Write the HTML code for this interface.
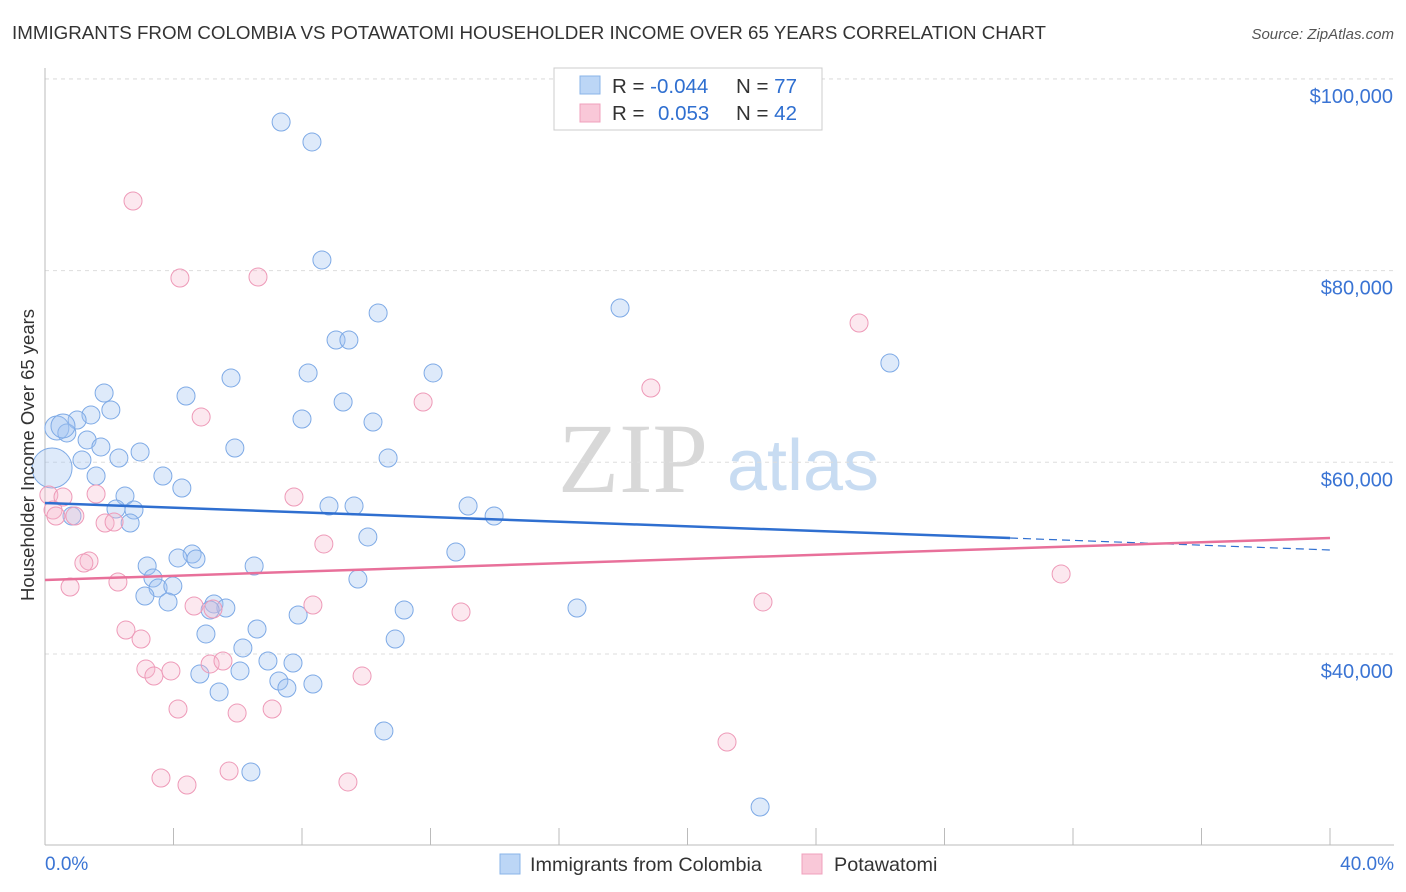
<!DOCTYPE html>
<html><head><meta charset="utf-8">
<style>
body{margin:0;background:#fff;font-family:"Liberation Sans",sans-serif;}
svg{display:block}
</style></head>
<body>
<svg id="chart" width="1406" height="892">
<text x="12" y="39" font-size="18.7" fill="#333" textLength="1034" lengthAdjust="spacingAndGlyphs">IMMIGRANTS FROM COLOMBIA VS POTAWATOMI HOUSEHOLDER INCOME OVER 65 YEARS CORRELATION CHART</text>
<text x="1394" y="39" font-size="15" fill="#555" font-style="italic" text-anchor="end">Source: ZipAtlas.com</text>
<g>
<text x="633" y="492" font-size="100" fill="#d8d8d8" text-anchor="middle" font-family="Liberation Serif,serif">ZIP</text>
<text x="803" y="490" font-size="72" fill="#c8dcf2" text-anchor="middle">atlas</text>
</g>
<g id="grid"></g>
<g id="axes"></g>
<g id="points"></g>
<g id="trends"></g>
<text x="34" y="455" font-size="18.5" fill="#333" text-anchor="middle" transform="rotate(-90 34 455)">Householder Income Over 65 years</text>
<text x="45" y="870" font-size="19" fill="#3a74d4">0.0%</text>
<text x="1394" y="870" font-size="19" fill="#3a74d4" text-anchor="end">40.0%</text>
<g>
<rect x="554" y="68" width="268" height="62" fill="#fff" stroke="#ccc"/>
<rect x="580" y="76" width="20" height="18" fill="#bcd6f6" stroke="#8ab4e8"/>
<rect x="580" y="104" width="20" height="18" fill="#f9c8d8" stroke="#f0a0bc"/>
<text x="612" y="93" font-size="20.5" fill="#333">R = <tspan fill="#2f6fd0">-0.044</tspan><tspan x="736">N = </tspan><tspan fill="#2f6fd0">77</tspan></text>
<text x="612" y="120" font-size="20.5" fill="#333">R = <tspan x="658" fill="#2f6fd0">0.053</tspan><tspan x="736">N = </tspan><tspan fill="#2f6fd0">42</tspan></text>
</g>
<g>
<rect x="500" y="854" width="20" height="20" fill="#bcd6f6" stroke="#8ab4e8"/>
<text x="530" y="871" font-size="19.8" fill="#333">Immigrants from Colombia</text>
<rect x="802" y="854" width="20" height="20" fill="#f9c8d8" stroke="#f0a0bc"/>
<text x="834" y="871" font-size="19.8" fill="#333">Potawatomi</text>
</g>
</svg>
<script>
const yTicks=[40000,60000,80000,100000];
const yTickLabels=["$40,000","$60,000","$80,000","$100,000"];
const xTicks=[0,4,8,12,16,20,24,28,32,36,40];
const blueX=[7.35,8.31,8.62,10.37,9.06,9.46,17.9,26.3,5.79,8.19,12.08,1.84,4.39,2.05,1.43,9.28,1.0,8.0,10.21,0.37,0.68,1.31,1.74,5.91,2.96,2.3,1.15,10.68,0.22,1.59,3.67,4.26,2.49,8.84,9.62,13.17,2.21,2.77,0.84,13.98,2.65,10.05,12.79,4.58,4.14,4.7,3.18,6.51,3.36,9.74,3.52,3.98,3.11,3.83,5.26,5.63,5.14,11.18,16.56,7.88,6.6,5.01,6.16,10.9,6.94,7.72,6.07,4.82,7.28,8.34,7.53,5.42,10.55,6.41,22.26,0.56];
const blueY=[95500,93420,81110,75580,72760,72760,76100,70360,68800,69320,69320,67230,66920,65460,64940,66290,64410,64520,64200,63580,63060,62330,61600,61490,61080,60450,60240,60450,59410,58570,58570,57320,56480,55440,55440,55440,55130,55020,54400,54400,53670,52210,50640,50430,50020,49910,49180,49180,47930,47820,46890,47090,46050,45430,45220,44800,44590,44590,44800,44070,42610,42090,40630,41560,39270,39060,38230,37910,37180,36870,36450,36040,31970,27690,24040,63790];
const blueR=[9,9,9,9,9,9,9,9,9,9,9,9,9,9,9,9,9,9,9,12,9,9,9,9,9,9,9,9,20,9,9,9,9,9,9,9,9,9,9,9,9,9,9,9,9,9,9,9,9,9,9,9,9,9,9,9,9,9,9,9,9,9,9,9,9,9,9,9,9,9,9,9,9,9,9,12];
const pinkX=[2.74,4.2,6.63,25.34,18.86,4.86,11.77,0.12,0.56,1.59,7.75,0.25,0.34,0.93,1.87,2.15,8.68,1.37,1.21,2.27,0.78,31.63,4.64,8.34,5.23,12.95,22.35,2.52,2.99,3.14,3.39,3.92,5.14,5.54,9.87,4.14,5.98,7.07,21.23,3.61,5.73,4.42,9.43];
const pinkY=[87260,79230,79330,74530,67750,64730,66290,56590,56380,56690,56380,55020,54400,54400,53670,53770,51480,49700,49490,47510,46990,48350,45010,45110,44690,44380,45430,42500,41560,38430,37700,38230,38960,39270,37700,34260,33840,34260,30820,27060,27790,26330,26650];
const blueTrendX=[0,30.04,40];
const blueTrendY=[55750,52100,50850];
const pinkTrendX=[0,40];
const pinkTrendY=[47720,52100];

const NS="http://www.w3.org/2000/svg";
const xs=v=>45+v*(1285/40);
const ys=v=>654-(v-40000)*(191.7/20000);
function mk(tag,attrs,parent){const e=document.createElementNS(NS,tag);for(const k in attrs)e.setAttribute(k,attrs[k]);document.getElementById(parent).appendChild(e);return e;}

yTicks.forEach((t,i)=>{
  const g=mk('line',{x1:45,x2:1394,y1:ys(t),y2:ys(t),stroke:'#ddd','stroke-dasharray':'4,4'},'grid');
  
  
  const l=mk('text',{x:1393,y:ys(t)+24,'font-size':20,fill:'#3a74d4','text-anchor':'end'},'axes');
  l.textContent=yTickLabels[i];
  
  
});
const topLine=mk('line',{x1:45,x2:1394,y1:79,y2:79,stroke:'#ddd','stroke-dasharray':'4,4'},'grid');


const xa=mk('line',{x1:45,x2:1394,y1:845,y2:845,stroke:'#bbb'},'axes');


const ya=mk('line',{x1:45,x2:45,y1:68,y2:845,stroke:'#bbb'},'axes');


xTicks.forEach(t=>{
  const e=mk('line',{x1:xs(t),x2:xs(t),y1:828,y2:845,stroke:'#bbb'},'axes');
  
  
});
blueX.forEach((x,i)=>{
  const c=mk('circle',{cx:xs(x),cy:ys(blueY[i]),r:blueR[i],fill:'rgba(160,196,240,0.35)',stroke:'#7eaae6','stroke-width':1},'points');
  
  
});
pinkX.forEach((x,i)=>{
  const c=mk('circle',{cx:xs(x),cy:ys(pinkY[i]),r:9,fill:'rgba(246,182,204,0.32)',stroke:'#ee9ab8','stroke-width':1},'points');
  
  
});
const b1=mk('line',{x1:xs(blueTrendX[0]),y1:ys(blueTrendY[0]),x2:xs(blueTrendX[1]),y2:ys(blueTrendY[1]),stroke:'#2f6fd0','stroke-width':2.5},'trends');


const b2=mk('line',{x1:xs(blueTrendX[1]),y1:ys(blueTrendY[1]),x2:xs(blueTrendX[2]),y2:ys(blueTrendY[2]),stroke:'#2f6fd0','stroke-width':1.2,'stroke-dasharray':'8,5'},'trends');


const p1=mk('line',{x1:xs(pinkTrendX[0]),y1:ys(pinkTrendY[0]),x2:xs(pinkTrendX[1]),y2:ys(pinkTrendY[1]),stroke:'#e8709a','stroke-width':2.5},'trends');


</script>
</body></html>
